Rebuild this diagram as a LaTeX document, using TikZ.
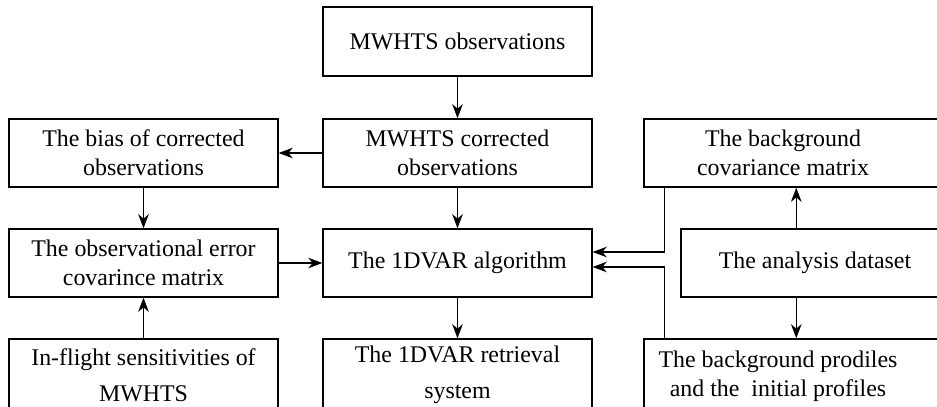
\documentclass[tikz,border=0pt]{standalone}
\usepackage{fontspec}
\setmainfont{Liberation Serif}
\usetikzlibrary{arrows.meta}
\begin{document}
\begin{tikzpicture}[x=0.02cm, y=-0.02cm,
    box/.style={draw, line width=0.85pt, inner sep=0pt, minimum width=5.38cm, minimum height=1.36cm, align=center, font=\fontsize{13.6}{16.5}\selectfont},
    lowbox/.style={box, minimum height=1.44cm, font=\fontsize{13.6}{20.5}\selectfont},
    wbox/.style={box, minimum width=6.32cm},
    txt/.style={inner sep=0pt, align=center, font=\fontsize{13.6}{16.5}\selectfont},
    arr/.style={-{Stealth[length=8pt, width=6pt, inset=2.5pt]}, line width=0.6pt}]
        \useasboundingbox (0, 0) rectangle (937, 406);
        \clip (0, 0) rectangle (937, 406);
        % middle column
        \node[box, minimum height=1.38cm] (obs) at (457.5, 41.5) {MWHTS observations};
        \node[box] (corr) at (457.5, 153) {MWHTS corrected\\observations};
        \node[box] (alg) at (457.5, 263) {The 1DVAR algorithm};
        \node[lowbox] (retr) at (457.5, 375) {The 1DVAR retrieval\\system};
        % left column
        \node[box] (bias) at (143.5, 153) {The bias of corrected\\observations};
        \node[box] (oberr) at (143.5, 263) {The observational error\\covarince matrix};
        \node[lowbox] (infl) at (143.5, 375) {In-flight sensitivities of\\MWHTS};
        % right column, cut at the edge
        \node[wbox] (bgcov) at (802, 153) {};
        \node[txt] (bgcovtxt) at (783, 153) {The background\\covariance matrix};
        \node[box, minimum width=5.58cm] (anal) at (820.5, 263) {};
        \node[txt] (analtxt) at (815, 263) {The analysis dataset};
        \node[wbox, minimum height=1.44cm] (bgprof) at (802, 375) {};
        \node[txt] (bgproftxt) at (778, 376) {The background prodiles\\and the~ initial profiles};
        % arrows
        \draw[arr] (obs) -- (corr);
        \draw[arr] (corr) -- (alg);
        \draw[arr] (alg) -- (retr);
        \draw[arr] (corr) -- (bias);
        \draw[arr] (bias) -- (oberr);
        \draw[arr] (infl) -- (oberr);
        \draw[arr] (oberr) -- (alg);
        \draw[arr] ([xshift=2.32cm]anal.north west) -- ([xshift=2.32cm]anal.north west |- bgcov.south);
        \draw[arr] ([xshift=2.32cm]anal.south west) -- ([xshift=2.32cm]anal.south west |- bgprof.north);
        \draw[arr] ([xshift=0.42cm]bgcov.south west) |- ([yshift=0.22cm]alg.east);
        \draw[arr] ([xshift=0.42cm]bgprof.north west) |- ([yshift=-0.08cm]alg.east);
      \end{tikzpicture}
\end{document}
